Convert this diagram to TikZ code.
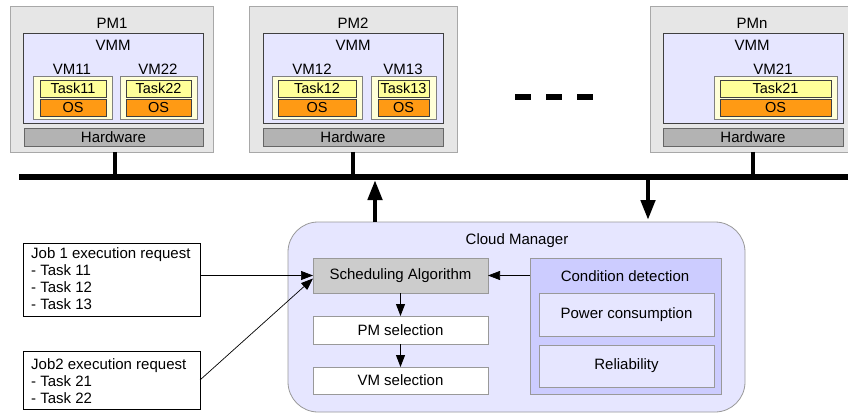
\documentclass[tikz,border=0pt]{standalone}
\usepackage{fontspec}
\setmainfont{Liberation Sans}
\usetikzlibrary{arrows.meta}
\definecolor{pmfill}{HTML}{E6E6E6}
\definecolor{pmline}{HTML}{A8A8A8}
\definecolor{vmmfill}{HTML}{E6E6FF}
\definecolor{vmfill}{HTML}{FFFFD8}
\definecolor{taskfill}{HTML}{FFFF99}
\definecolor{osfill}{HTML}{FF9A14}
\definecolor{hwfill}{HTML}{B3B3B3}
\definecolor{schedfill}{HTML}{CCCCCC}
\definecolor{condfill}{HTML}{CCCCFF}
\definecolor{softline}{HTML}{999999}
\begin{document}
\begin{tikzpicture}[x=1pt,y=-1pt,
  font=\fontsize{15}{17}\selectfont,
  bx/.style={anchor=north west, inner sep=0pt, outer sep=0pt, line width=0.8pt},
  pmbox/.style={bx, draw=pmline, fill=pmfill},
  vmmbox/.style={bx, draw=black!75, fill=vmmfill},
  vmbox/.style={bx, draw=black!50, fill=vmfill},
  taskbox/.style={bx, draw=black!75, fill=taskfill, font=\fontsize{14.5}{17}\selectfont},
  osbox/.style={bx, draw=black!75, fill=osfill, font=\fontsize{14.5}{17}\selectfont},
  hwbox/.style={bx, draw=black!60, fill=hwfill},
  lbl/.style={inner sep=0pt},
  cmbox/.style={bx, draw=softline, fill=vmmfill, rounded corners=30pt},
  schedbox/.style={bx, draw=softline, fill=schedfill},
  selbox/.style={bx, draw=softline, fill=white},
  condbox/.style={bx, draw=softline, fill=condfill},
  critbox/.style={bx, draw=softline, fill=vmmfill},
  jobbox/.style={bx, draw=black, fill=white},
  jobtext/.style={anchor=west, inner sep=0pt, align=left},
  bus/.style={line width=6pt},
  pmlink/.style={line width=4.5pt},
  bigarrow/.style={line width=4.5pt, -{Triangle[length=20pt,width=14pt]}},
  smallarrow/.style={line width=1pt, -{Triangle[length=12pt,width=9pt]}},
  thinarrow/.style={line width=0.7pt, -{Triangle[length=12pt,width=9pt]}}
]
\useasboundingbox (0,0) rectangle (848,414);
\fill[white] (0,0) rectangle (848,414);

% ---------- PM1 ----------
\node[pmbox, minimum width=203pt, minimum height=146pt] (pm1) at (10,6) {};
\node[lbl] (pm1l) at (112,23) {PM1};
\node[vmmbox, minimum width=180pt, minimum height=90pt] (vmm1) at (23,33) {};
\node[lbl] (vmm1l) at (113,45) {VMM};
\node[lbl] (vm11l) at (72,69) {VM11};
\node[lbl] (vm22l) at (158,69) {VM22};
\node[vmbox, minimum width=79pt, minimum height=43pt] (vm11) at (33,76) {};
\node[taskbox, minimum width=66pt, minimum height=17pt] (t11) at (40,80) {Task11};
\node[osbox, minimum width=66pt, minimum height=17pt] (os11) at (40,99) {OS};
\node[vmbox, minimum width=77pt, minimum height=43pt] (vm22) at (120,76) {};
\node[taskbox, minimum width=65pt, minimum height=17pt] (t22) at (126,80) {Task22};
\node[osbox, minimum width=65pt, minimum height=17pt] (os22) at (126,99) {OS};
\node[hwbox, minimum width=179pt, minimum height=18pt] (hw1) at (24,128) {Hardware};

% ---------- PM2 ----------
\node[pmbox, minimum width=208pt, minimum height=146pt] (pm2) at (249,6) {};
\node[lbl] (pm2l) at (353,23) {PM2};
\node[vmmbox, minimum width=180pt, minimum height=90pt] (vmm2) at (263,33) {};
\node[lbl] (vmm2l) at (353,45) {VMM};
\node[lbl] (vm12l) at (312,69) {VM12};
\node[lbl] (vm13l) at (403,69) {VM13};
\node[vmbox, minimum width=90pt, minimum height=43pt] (vm12) at (272,76) {};
\node[taskbox, minimum width=78pt, minimum height=17pt] (t12) at (278,80) {Task12};
\node[osbox, minimum width=78pt, minimum height=17pt] (os12) at (278,99) {OS};
\node[vmbox, minimum width=65pt, minimum height=43pt] (vm13) at (371,76) {};
\node[taskbox, minimum width=51pt, minimum height=17pt] (t13) at (378,80) {Task13};
\node[osbox, minimum width=51pt, minimum height=17pt] (os13) at (378,99) {OS};
\node[hwbox, minimum width=180pt, minimum height=18pt] (hw2) at (263,128) {Hardware};

% ---------- PMn ----------
\node[pmbox, minimum width=210pt, minimum height=146pt] (pmn) at (650,6) {};
\node[lbl] (pmnl) at (752,23) {PMn};
\node[vmmbox, minimum width=180pt, minimum height=90pt] (vmmn) at (663,33) {};
\node[lbl] (vmmnl) at (752,45) {VMM};
\node[lbl] (vm21l) at (773,69) {VM21};
\node[vmbox, minimum width=123pt, minimum height=43pt] (vm21) at (714,76) {};
\node[taskbox, minimum width=111pt, minimum height=17pt] (t21) at (720,80) {Task21};
\node[osbox, minimum width=111pt, minimum height=17pt] (os21) at (720,99) {OS};
\node[hwbox, minimum width=180pt, minimum height=18pt] (hwn) at (663,128) {Hardware};

% ---------- dashes ----------
\draw[line width=6pt] (515,97) -- (531,97);
\draw[line width=6pt] (546,97) -- (562,97);
\draw[line width=6pt] (577,97) -- (593,97);

% ---------- bus ----------
\coordinate (busL) at (19,177);
\coordinate (busR) at (850,177);
\coordinate (b1) at (115,177);
\coordinate (b2) at (353,177);
\coordinate (bn) at (753,177);
\draw[pmlink] (b1 |- pm1.south) -- (b1);
\draw[pmlink] (b2 |- pm2.south) -- (b2);
\draw[pmlink] (bn |- pmn.south) -- (bn);
\draw[bus] (busL) -- (busR);

% ---------- cloud manager ----------
\node[cmbox, minimum width=457pt, minimum height=190pt] (cm) at (288,222) {};
\node[lbl] (cml) at (517,241) {Cloud Manager};
\node[schedbox, minimum width=175pt, minimum height=35pt] (sched) at (313,258) {Scheduling Algorithm};
\node[selbox, minimum width=175pt, minimum height=28pt] (pmsel) at (313,316) {PM selection};
\node[selbox, minimum width=175pt, minimum height=27pt] (vmsel) at (313,367) {VM selection};
\node[condbox, minimum width=191pt, minimum height=136pt] (cond) at (530,258) {};
\node[lbl] (condl) at (625,276) {Condition detection};
\node[critbox, minimum width=175pt, minimum height=43pt] (power) at (539,293) {Power consumption};
\node[critbox, minimum width=175pt, minimum height=42pt] (rel) at (539,345) {Reliability};

\coordinate (busup) at (375,180);
\coordinate (busdown) at (648,180);
\draw[bigarrow] (cm.north -| busup) -- (busup);
\draw[bigarrow] (busdown) -- ([yshift=2pt]cm.north -| busdown);

\draw[smallarrow] (sched.south) -- (pmsel.north);
\draw[smallarrow] (pmsel.south) -- (vmsel.north);
\draw[thinarrow] (sched.east -| cond.west) -- (sched.east);

% ---------- jobs ----------
\node[jobbox, minimum width=177pt, minimum height=73pt] (job1) at (23,243) {};
\node[jobtext] (job1t) at (31,279) {Job 1 execution request\\- Task 11\\- Task 12\\- Task 13};
\node[jobbox, minimum width=177pt, minimum height=58pt] (job2) at (23,351) {};
\node[jobtext] (job2t) at (31,381) {Job2 execution request\\- Task 21\\- Task 22};
\draw[thinarrow] (sched.west -| job1.east) -- (sched.west);
\draw[thinarrow] (job2.east) -- ([yshift=-3pt]sched.west);
\end{tikzpicture}
\end{document}
